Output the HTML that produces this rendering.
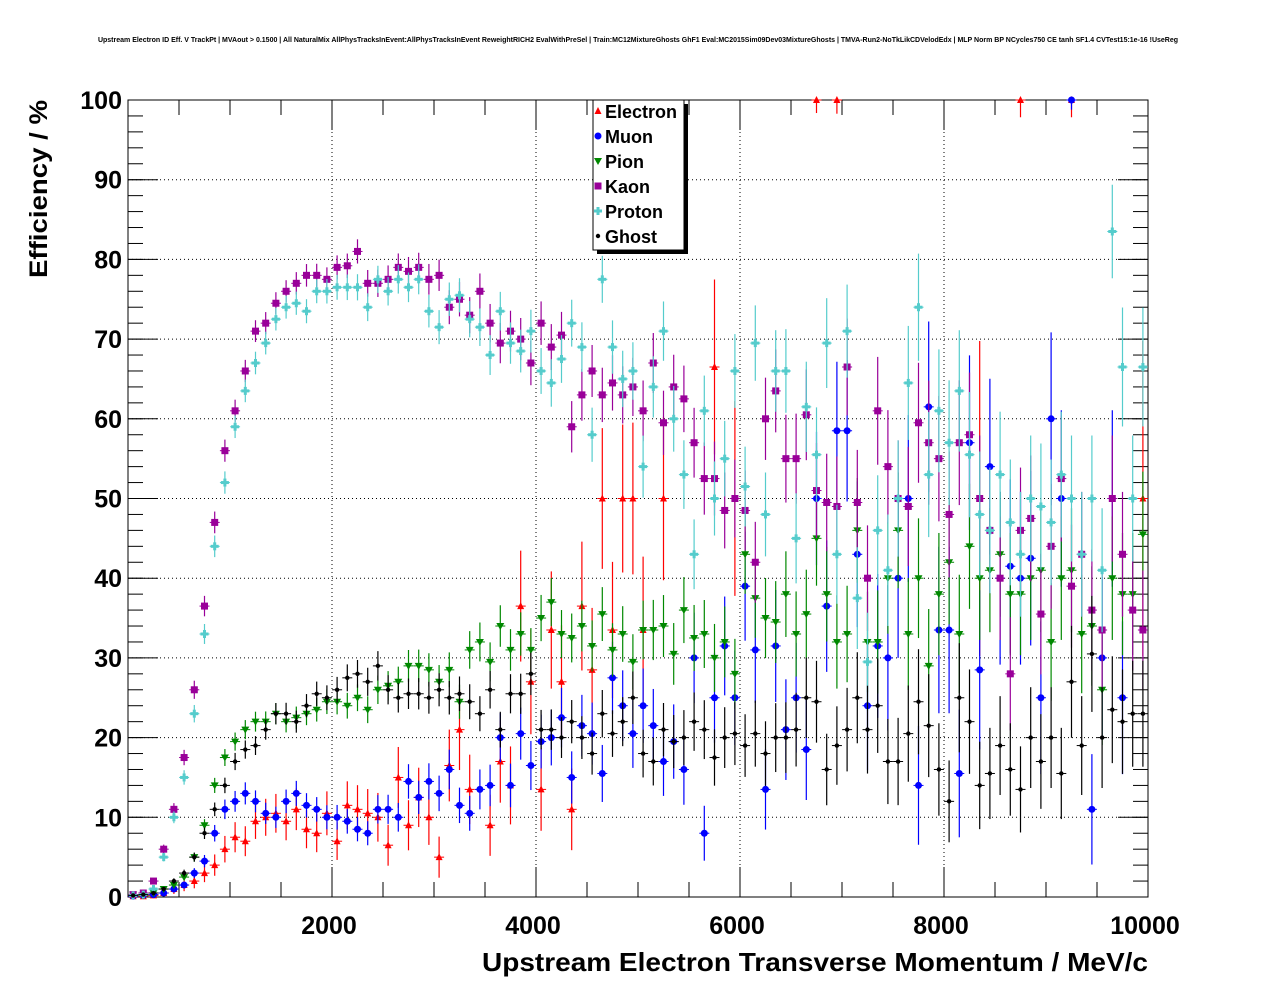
<!DOCTYPE html>
<html><head><meta charset="utf-8"><style>
body{margin:0;background:#fff;width:1276px;height:996px;overflow:hidden;font-family:"Liberation Sans",sans-serif}
svg{position:absolute;left:0;top:0}
</style></head><body>
<svg id="c" width="1276" height="996">
<text x="638" y="42" font-size="7" font-weight="bold" text-anchor="middle">Upstream Electron ID Eff. V TrackPt | MVAout &gt; 0.1500 | All NaturalMix AllPhysTracksInEvent:AllPhysTracksInEvent ReweightRICH2 EvalWithPreSel | Train:MC12MixtureGhosts GhF1 Eval:MC2015Sim09Dev03MixtureGhosts | TMVA-Run2-NoTkLikCDVelodEdx | MLP Norm BP NCycles750 CE tanh SF1.4 CVTest15:1e-16 !UseReg</text>
<text transform="translate(47,278) rotate(-90)" font-size="25" font-weight="bold" textLength="178" lengthAdjust="spacingAndGlyphs">Efficiency / %</text>
<text x="482" y="971" font-size="26" font-weight="bold" textLength="666" lengthAdjust="spacingAndGlyphs">Upstream Electron Transverse Momentum / MeV/c</text>
<g id="grid"></g><g id="axes"></g><g id="marks"></g>
<g>
<rect x="597" y="104" width="91" height="150" fill="#000"/>
<rect x="593" y="100" width="91" height="150" fill="#fff" stroke="#000"/>
<g id="leg"></g>
</g>
</svg>
<script>
const categories=[];for(let i=0;i<100;i++)categories.push(50+100*i);
const electron=[0.1,0.1,0.2,0.5,1,1.5,2,3,4,6,7.5,7,9.5,10,10.5,9.5,11,8.5,8,10.5,7,11.5,11,10.5,10,6.5,15,9,12.5,10,5,16.5,21,13.5,null,9,17,14,36.5,27,13.5,33.5,27,11,36.5,28.5,50,33.5,50,50,33.5,null,50,null,null,null,null,66.5,null,50,null,null,null,null,null,null,null,100,null,100,null,null,null,null,null,null,null,null,null,null,null,null,null,50,null,null,null,100,null,null,null,null,100,null,null,null,null,null,null,50];
const muon=[0.1,0.2,0.3,0.5,1,1.5,3,4.5,8,11,12,13,12,10.5,10,12,13,11.5,11,10,10,9.5,8.5,8,11,11,10,14.5,12.5,14.5,13,16,11.5,10.5,13.5,14,20,14,20.5,16.5,19.5,20,22.5,15,21.5,20.5,15.5,27.5,24,20.5,24,21.5,17,19.5,16,30,8,25,31.5,25,39,31,13.5,31.5,21,25,18.5,50,36.5,58.5,58.5,43,24,31.5,30,40,50,14,61.5,33.5,33.5,15.5,57,28.5,54,40,41.5,40,42.5,25,60,50,100,null,11,30,50,25,null,null];
const pion=[0.3,0.2,0.5,1,1.5,2.5,5,9,14,17.5,19.5,21,22,22,23,22,22.5,23,23.5,24.5,24.5,24,25,23.5,26,26.5,27,29,29,28.5,27,28.5,24.5,31,32,29.5,34,31,33,31,35,37,33,32.5,34,31.5,35.5,31,33,29.5,33.5,33.5,34,30.5,36,32.5,33,30,32,28,43,37.5,35,34.5,38,33,35.5,45,38,32,33,46,32,32,40,46,33,40,29,38,42,33,44,40,41,43,38,38,40,41,32,40,41,33,34,26,40,38,38,45.5];
const kaon=[0.3,0.5,2,6,11,17.5,26,36.5,47,56,61,66,71,72,74.5,76,77,78,78,77.5,79,79.2,81,77,77,77.5,79,78.5,79,77.5,78,74,75,73,76,72,69.5,71,70,67,72,69,70.5,59,63,66,63,64.5,63,64,61,67,59.5,64,62.5,57,52.5,52.5,48.5,50,48.5,42,60,63.5,55,55,60.5,51,49.5,49,66.5,49.5,40,61,54,50,49,59.5,57,55,48,57,58,50,46,40,28,46,47.5,35.5,44,52.5,39,43,36,33.5,50,43,36,33.5];
const proton=[0.2,0.3,1,5,10,15,23,33,44,52,59,63.5,67,69.5,72.5,74,74.5,73.5,76,76,76.5,76.5,76.5,74,77.5,76,77.5,76.5,77.5,73.5,71.5,75,75.5,72.5,71.5,68,73.5,69.5,68.5,71,66,64.5,67.5,72,69,58,77.5,69,65,66,54,64,71,60,53,43,61,50,55,66,51.5,69.5,48,66,66,45,61.5,55.5,69.5,43,71,37.5,29.5,46,41,50,64.5,74,53,61,57,63.5,55.5,48,46,53,47,43,50,49,47,53,50,43,50,41,83.5,66.5,50,66.5];
const ghost=[0.2,0.3,0.5,1,2,3,5,8,11,14,17,18.5,19,21,23,23,22,24,25.5,25,26,27.5,28,27,29,26,25,25.5,25.5,25,26,25,25.5,24.5,23,26,21,25.5,25.5,28,21,21,20,22,20,18,23,20.5,22,25,18,17,21,19.5,20,22,21,17.5,20,20.5,19,20.5,18,20,20,21,25,24.5,16,19,21,25,21,24,17,17,20.5,24.5,21.5,16,12,25,22,14,15.5,19,16,13.5,20,17,20,15.5,27,19,30.5,20,23.5,22,23,23];
const yTicks=[0,10,20,30,40,50,60,70,80,90,100];
const xTicks=[2000,4000,6000,8000,10000];
const X0=128,X1=1148,Y0=897,Y1=100;
const xs=v=>X0+(v/10000)*(X1-X0), ys=v=>Y0-(v/100)*(Y0-Y1);
const NS='http://www.w3.org/2000/svg';
function mk(t,a,p){const e=document.createElementNS(NS,t);for(const k in a)e.setAttribute(k,a[k]);p.appendChild(e);return e;}
const grid=document.getElementById('grid'),axes=document.getElementById('axes'),marks=document.getElementById('marks');
mk('rect',{x:X0,y:Y1,width:X1-X0,height:Y0-Y1,fill:'none',stroke:'#000'},axes);
yTicks.forEach(t=>{const y=ys(t);
 if(t>0&&t<100){const g=mk('line',{x1:X0,x2:X1,y1:y,y2:y,stroke:'#000','stroke-dasharray':'1,3'},grid);}
 mk('line',{x1:X0,x2:X0+30,y1:y,y2:y,stroke:'#000'},axes);mk('line',{x1:X1,x2:X1-30,y1:y,y2:y,stroke:'#000'},axes);
 const l=mk('text',{x:X0-6,y:y+9,'font-size':25,'font-weight':'bold','text-anchor':'end'},axes);l.textContent=t;
 });
for(let t=0;t<100;t+=2){const y=ys(t);mk('line',{x1:X0,x2:X0+15,y1:y,y2:y,stroke:'#000'},axes);mk('line',{x1:X1,x2:X1-15,y1:y,y2:y,stroke:'#000'},axes);}
for(let t=0;t<=10000;t+=500){const x=xs(t),L=t%2000==0?30:15;mk('line',{x1:x,x2:x,y1:Y0,y2:Y0-L,stroke:'#000'},axes);mk('line',{x1:x,x2:x,y1:Y1,y2:Y1+L,stroke:'#000'},axes);}
xTicks.forEach(t=>{const x=xs(t);
 if(t<10000){const g=mk('line',{x1:x,x2:x,y1:Y1,y2:Y0,stroke:'#000','stroke-dasharray':'1,3'},grid);}
 const l=mk('text',{x:x-3,y:Y0+37,'font-size':25,'font-weight':'bold','text-anchor':'middle'},axes);l.textContent=t;
 });
function marker(g,type,x,y,c){
 if(type=='tu')mk('polygon',{points:`${x},${y-4} ${x-3.5},${y+3} ${x+3.5},${y+3}`,fill:c},g);
 else if(type=='td')mk('polygon',{points:`${x},${y+4} ${x-4},${y-3} ${x+4},${y-3}`,fill:c},g);
 else if(type=='o')mk('circle',{cx:x,cy:y,r:3.5,fill:c},g);
 else if(type=='s')mk('rect',{x:x-3.5,y:y-3.5,width:7,height:7,fill:c},g);
 else if(type=='p'){mk('rect',{x:x-4,y:y-1.5,width:8,height:3,fill:c},g);mk('rect',{x:x-1.5,y:y-4,width:3,height:8,fill:c},g);}
 else mk('circle',{cx:x,cy:y,r:2.2,fill:c},g);}
const series=[['electron',electron,'#f00','tu',2.5],['muon',muon,'#00f','o',1.4],['pion',pion,'#080','td',1],['kaon',kaon,'#909','s',1],['proton',proton,'#5cc','p',1],['ghost',ghost,'#000','d',1]];
series.forEach(([name,vals,c,type,ef])=>{
 const g=mk('g',{},marks);
 vals.forEach((v,i)=>{if(v==null)return;const x=xs(categories[i]),y=ys(v);
  const n=Math.max(40,2000*Math.exp(-i/20));const e=Math.min(Math.sqrt(Math.max(v*(100-v),30)/n)*ef,25);
  mk('line',{x1:x-5,x2:x+5,y1:y,y2:y,stroke:c,'stroke-width':1},g);
  mk('line',{x1:x,x2:x,y1:Math.max(ys(100),ys(v+e)),y2:Math.min(Y0,ys(v-e)),stroke:c,'stroke-width':1.2},g);
  marker(g,type,x,y,c);});
});
const leg=document.getElementById('leg');
series.forEach(([name,vals,c,type],k)=>{const y=111+k*25;
 const g=mk('g',{},leg);
 marker(g,type,598,y,c);
 const t=mk('text',{x:605,y:y+7,'font-size':18,'font-weight':'bold'},g);t.textContent=name[0].toUpperCase()+name.slice(1);});
</script>
</body></html>
